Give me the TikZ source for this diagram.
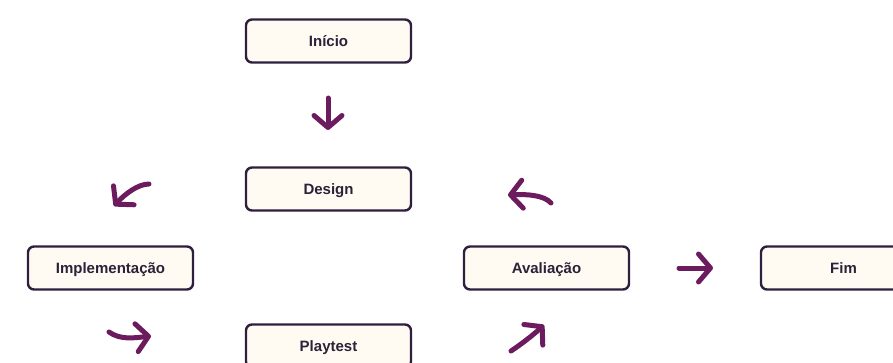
\documentclass[tikz,border=0pt]{standalone}
\usepackage{fontspec}
\setmainfont{Liberation Sans}
\usetikzlibrary{arrows.meta}

\definecolor{boxline}{RGB}{46,31,62}
\definecolor{boxfill}{RGB}{255,251,242}
\definecolor{arrowc}{RGB}{108,28,94}
\definecolor{textc}{RGB}{42,34,56}

\begin{document}
\begin{tikzpicture}[x=1pt,y=-1pt,
etapa/.style={draw=boxline,fill=boxfill,line width=2.4pt,rounded corners=6pt,
minimum width=165pt,minimum height=43pt,inner sep=0pt,
text height=10.7pt,text depth=0pt,
font=\fontsize{15}{18}\selectfont\bfseries,text=textc},
seta/.style={draw=arrowc,line width=5pt,line cap=round,
-{Straight Barb[length=12pt,width=28pt,round]}}]
\clip (0,0) rectangle (893,362);
\useasboundingbox (0,0) rectangle (893,362);

\node[etapa] (inicio) at (328.5,41) {Início};
\node[etapa] (design) at (328.5,189) {Design};
\node[etapa] (impl) at (110.5,268) {Implementação};
\node[etapa] (aval) at (546.5,268) {Avaliação};
\node[etapa] (fim) at (843.5,268) {Fim};
\node[etapa] (play) at (328.5,346) {Playtest};

% pontas das setas
\coordinate (s1a) at (328,98);   \coordinate (s1b) at (328,130);
\coordinate (s2a) at (149,184);  \coordinate (s2b) at (114,206);
\coordinate (s3a) at (551,203);  \coordinate (s3b) at (508,195);
\coordinate (s4a) at (109,332);  \coordinate (s4b) at (151,336);
\coordinate (s5a) at (511,351);  \coordinate (s5b) at (544,325);
\coordinate (s6a) at (679,268);  \coordinate (s6b) at (713,268);

\draw[seta] (s1a) -- (s1b);
\draw[seta] (s2a) .. controls (138,184) and (125,194) .. (s2b);
\draw[seta] (s3a) .. controls (544,195) and (526,194) .. (s3b);
\draw[seta] (s4a) .. controls (120,340) and (134,338) .. (s4b);
\draw[seta] (s5a) .. controls (520,345) and (532,336) .. (s5b);
\draw[seta] (s6a) -- (s6b);
\end{tikzpicture}
\end{document}
